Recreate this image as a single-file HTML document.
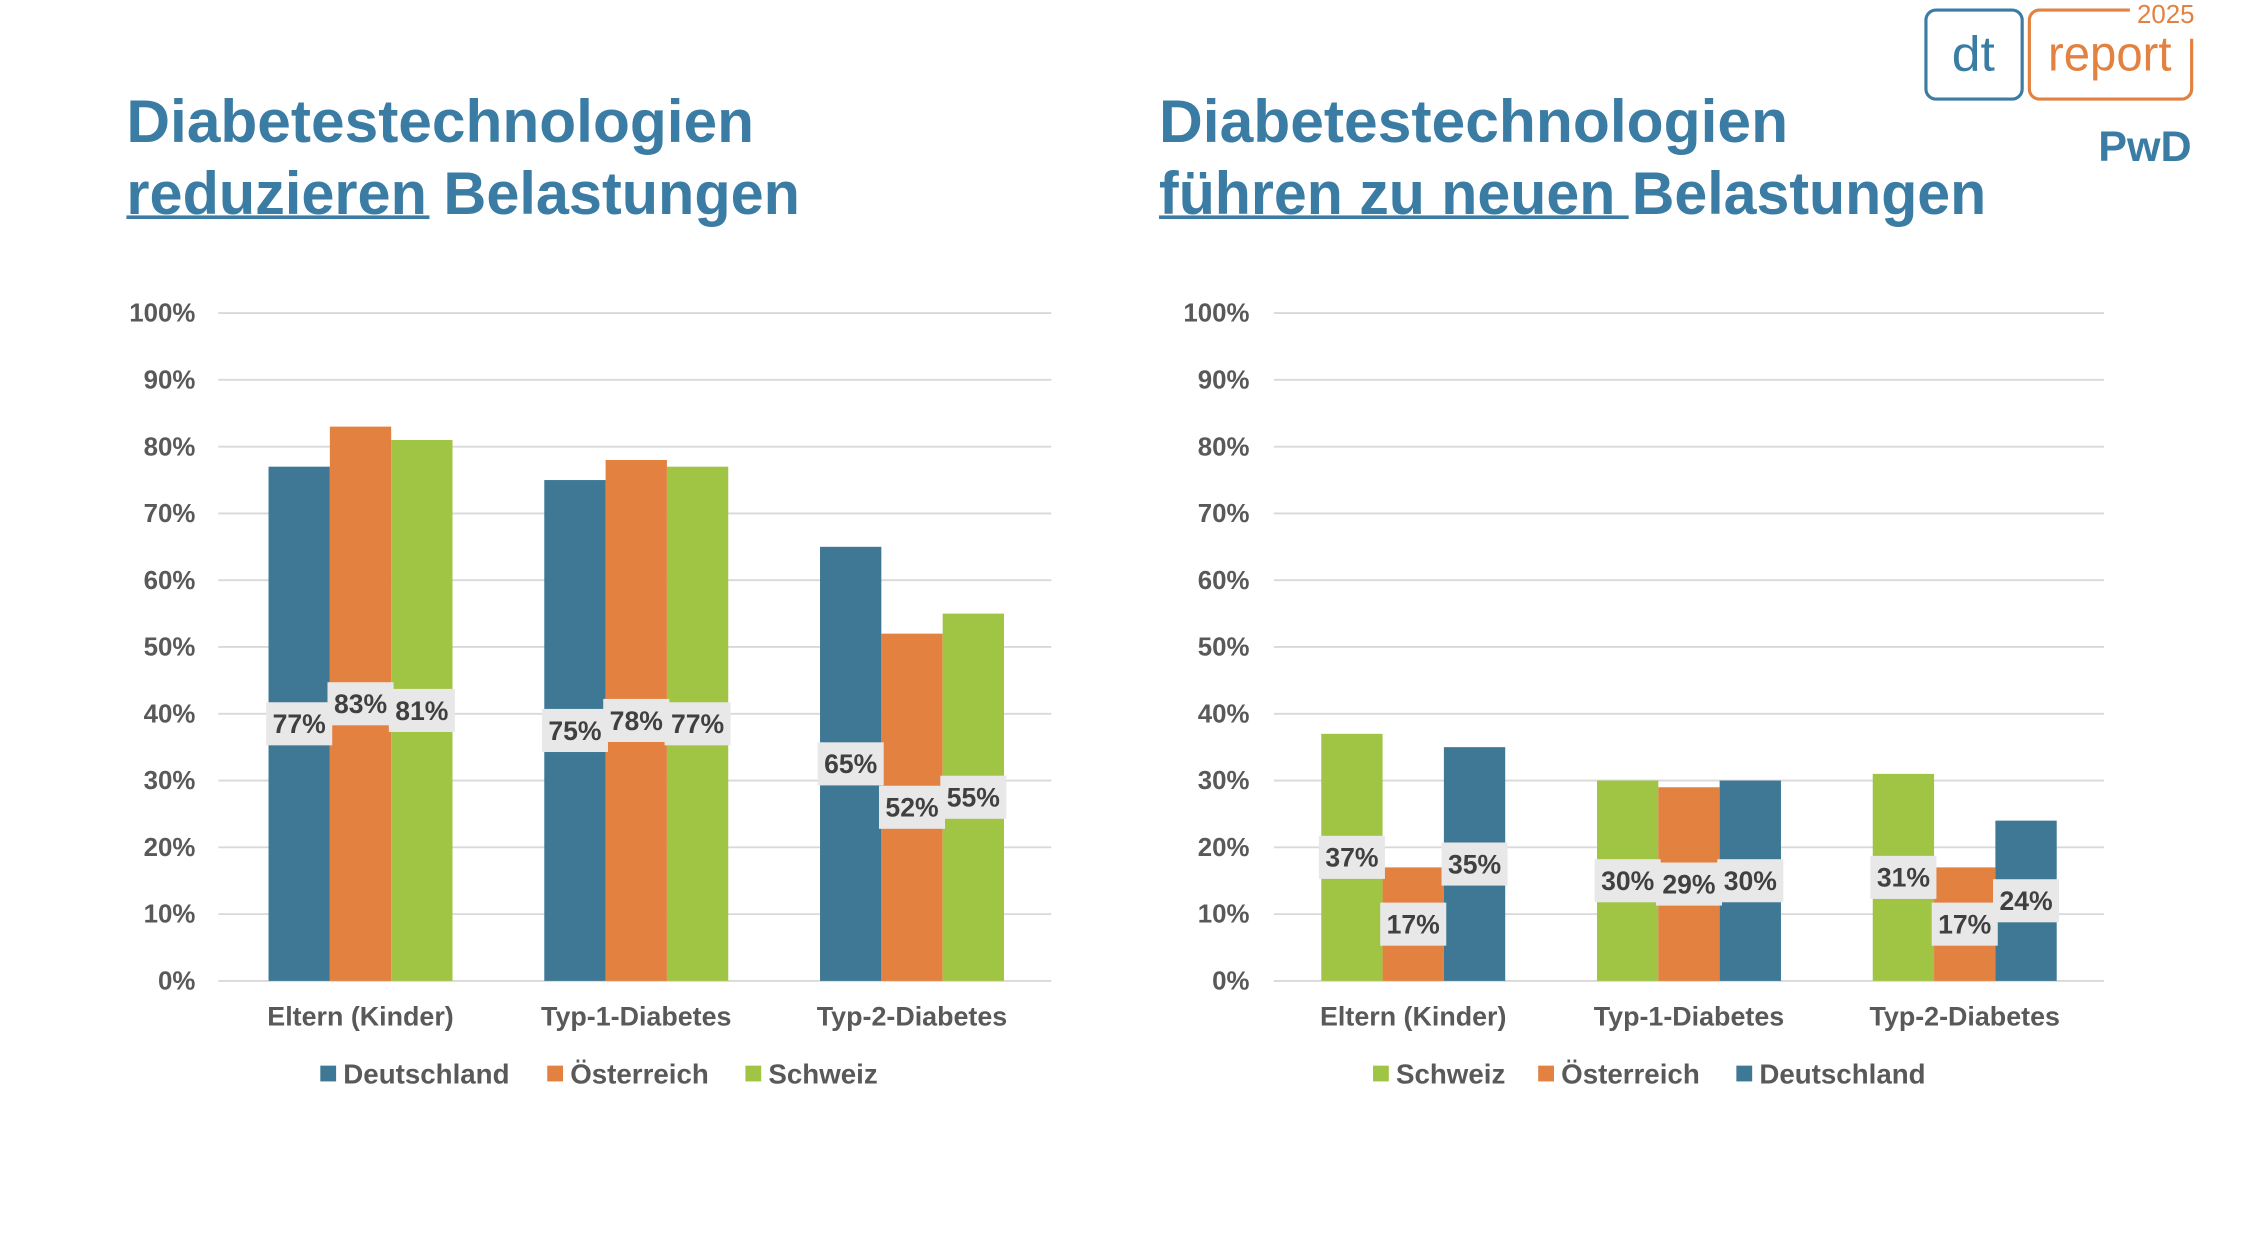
<!DOCTYPE html>
<html><head><meta charset="utf-8">
<style>
html,body{margin:0;padding:0;background:#fff;}
svg{display:block;}
text{font-family:"Liberation Sans",sans-serif;}
</style></head>
<body>
<svg id="chart" width="2252" height="1242" viewBox="0 0 1568 864.8" xmlns="http://www.w3.org/2000/svg">
<rect width="1568" height="864.8" fill="#fff"/>
<g fill="#3a7ca3" font-weight="bold">
<text x="88" y="99" font-size="42" textLength="437" lengthAdjust="spacingAndGlyphs" style="font-family:'Liberation Sans Narrow','Liberation Sans',sans-serif">Diabetestechnologien</text>
<text x="88" y="149" font-size="42" textLength="469" lengthAdjust="spacingAndGlyphs" style="font-family:'Liberation Sans Narrow','Liberation Sans',sans-serif">reduzieren Belastungen</text>
<rect x="88" y="150" width="211" height="2.5"/>
</g>
<g fill="#3a7ca3" font-weight="bold">
<text x="807" y="99" font-size="42" textLength="438" lengthAdjust="spacingAndGlyphs" style="font-family:'Liberation Sans Narrow','Liberation Sans',sans-serif">Diabetestechnologien</text>
<text x="807" y="149" font-size="42" textLength="576" lengthAdjust="spacingAndGlyphs" style="font-family:'Liberation Sans Narrow','Liberation Sans',sans-serif">führen zu neuen Belastungen</text>
<rect x="807" y="150" width="327" height="2.5"/>
</g>
<g>
<rect x="1341" y="7" width="67" height="62" rx="7" fill="none" stroke="#3a7ca3" stroke-width="2.2"/>
<text x="1374" y="49" font-size="34" text-anchor="middle" fill="#3a7ca3" textLength="30" lengthAdjust="spacingAndGlyphs">dt</text>
<path d="M1483 7 H1420 a7 7 0 0 0 -7 7 V62 a7 7 0 0 0 7 7 H1519 a7 7 0 0 0 7 -7 V27" fill="none" stroke="#e38140" stroke-width="2.2"/>
<text x="1469" y="49" font-size="34" text-anchor="middle" fill="#e38140" textLength="86" lengthAdjust="spacingAndGlyphs">report</text>
<text x="1528" y="16" font-size="18" text-anchor="end" fill="#e38140">2025</text>
<text x="1526" y="112" font-size="30" text-anchor="end" fill="#3a7ca3" font-weight="bold">PwD</text>
</g>
<g id="left"></g>
<g id="right"></g>
</svg>
<script>
const categories = ["Eltern (Kinder)", "Typ-1-Diabetes", "Typ-2-Diabetes"];
const leftSeriesNames = ["Deutschland", "Österreich", "Schweiz"];
const leftDeutschland = [77, 75, 65];
const leftOesterreich = [83, 78, 52];
const leftSchweiz = [81, 77, 55];
const rightSeriesNames = ["Schweiz", "Österreich", "Deutschland"];
const rightSchweiz = [37, 30, 31];
const rightOesterreich = [17, 29, 17];
const rightDeutschland = [35, 30, 24];
const yTicks = [0, 10, 20, 30, 40, 50, 60, 70, 80, 90, 100];

const BLUE = "#3f7894", ORANGE = "#e38140", GREEN = "#a0c545";
const NS = "http://www.w3.org/2000/svg";
function mk(tag, attrs, parent, txt) {
  const e = document.createElementNS(NS, tag);
  for (const k in attrs) e.setAttribute(k, attrs[k]);
  if (txt !== undefined) e.textContent = txt;
  parent.appendChild(e);
  return e;
}
function y(v) { return 683 - v / 100 * 465; }

function drawChart(g, opt) {
  const series = opt.series;
  yTicks.forEach(t => {
    const l = mk("line", {x1: opt.gx0, x2: opt.gx1, y1: y(t), y2: y(t), stroke: "#d9d9d9", "stroke-width": 1.3}, g);
    
    
    const tx = mk("text", {x: opt.labelX, y: y(t) + 6, "text-anchor": "end", "font-size": 18, "font-weight": "bold", fill: "#595959"}, g, t + "%");
    
    
  });
  const bw = 42.7;
  categories.forEach((c, ci) => {
    const cx = opt.c0 + ci * 192;
    const ct = mk("text", {x: cx, y: 714, "text-anchor": "middle", "font-size": 18.7, "font-weight": "bold", fill: "#595959"}, g, c);
    
    
    series.forEach((s, si) => {
      const v = s.values[ci];
      const x = cx - 1.5 * bw + si * bw;
      const r = mk("rect", {x: x, y: y(v), width: bw, height: y(0) - y(v), fill: s.color}, g);
      
      
    });
  });
  categories.forEach((c, ci) => {
    const cx = opt.c0 + ci * 192;
    series.forEach((s, si) => {
      const v = s.values[ci];
      const x = cx - 1.5 * bw + si * bw + bw / 2;
      const ly = y(v / 2);
      const b = mk("rect", {x: x - 23, y: ly - 15, width: 46, height: 30, fill: "#e8e8e8"}, g);
      
      
      const t = mk("text", {x: x, y: ly + 6.5, "text-anchor": "middle", "font-size": 18.5, "font-weight": "bold", fill: "#404040"}, g, v + "%");
      
      
    });
  });
  series.forEach((s, si) => {
    const lx = opt.legendX[si];
    const sq = mk("rect", {x: lx, y: 742, width: 11, height: 11, fill: s.color}, g);
    
    
    const lt = mk("text", {x: lx + 16, y: 754.5, "font-size": 19.3, "font-weight": "bold", fill: "#595959"}, g, s.name);
    
    
  });
}

const gl = document.getElementById("left");


drawChart(gl, {gx0: 152, gx1: 732, labelX: 136, c0: 251, legendX: [223, 381, 519],
  series: [
    {key: "deutschland", name: leftSeriesNames[0], values: leftDeutschland, color: BLUE},
    {key: "oesterreich", name: leftSeriesNames[1], values: leftOesterreich, color: ORANGE},
    {key: "schweiz", name: leftSeriesNames[2], values: leftSchweiz, color: GREEN}
  ]});
const gr = document.getElementById("right");


drawChart(gr, {gx0: 887, gx1: 1465, labelX: 870, c0: 984, legendX: [956, 1071, 1209],
  series: [
    {key: "schweiz", name: rightSeriesNames[0], values: rightSchweiz, color: GREEN},
    {key: "oesterreich", name: rightSeriesNames[1], values: rightOesterreich, color: ORANGE},
    {key: "deutschland", name: rightSeriesNames[2], values: rightDeutschland, color: BLUE}
  ]});
</script>
</body></html>
